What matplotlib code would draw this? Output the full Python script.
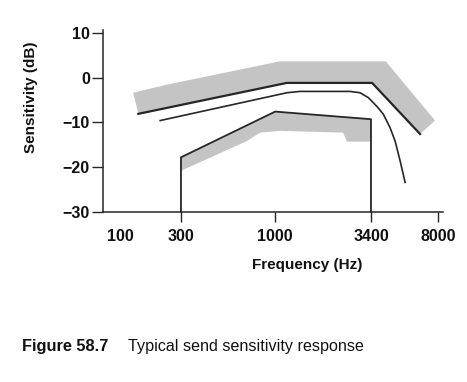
import matplotlib
matplotlib.use("Agg")
import matplotlib.pyplot as plt
from matplotlib.transforms import ScaledTranslation

plt.rcParams['font.family'] = ['Liberation Sans', 'DejaVu Sans']

# ---- data (frequency in Hz, sensitivity in dB) ----
upper_f = [174, 1160, 3450, 6365]
upper_db = [-8.1, -1.2, -1.2, -12.6]

lower_f = [230, 1160, 1370, 2600, 2960, 3290, 3660, 3985, 4340, 4630, 4935, 5260]
lower_db = [-9.6, -3.4, -3.1, -3.1, -3.4, -4.5, -6.4, -8.2, -11.2, -14.2, -18.6, -23.4]

bracket_f = [300, 300, 1000, 3400, 3400]
bracket_db = [-30, -17.8, -7.6, -9.3, -30]

# stippled tolerance bands
band1_top_f = [163, 250, 1060, 4110, 7710]
band1_top_db = [-3.4, -1.6, 3.6, 3.6, -9.6]

band2_bot_f = [3400, 2500, 2380, 1064, 824, 695, 300]
band2_bot_db = [-14.3, -14.3, -12.3, -11.9, -12.3, -14.2, -20.8]

xticks = [100, 300, 1000, 3400, 8000]
xtick_labels = ['100', '300', '1000', '3400', '8000']
yticks = [-30, -20, -10, 0, 10]

ink = '#262626'
band_col = '#c4c4c4'

fig = plt.figure(figsize=(4.67, 3.82), dpi=100)
ax = fig.add_axes([95 / 467, 170 / 382, 348 / 467, 182 / 382])

# bands
b1x = band1_top_f + upper_f[::-1]
b1y = band1_top_db + upper_db[::-1]
ax.fill(b1x, b1y, color=band_col, lw=0, zorder=1)
b2x = bracket_f[1:4] + band2_bot_f
b2y = bracket_db[1:4] + band2_bot_db
ax.fill(b2x, b2y, color=band_col, lw=0, zorder=1)

# curves
ax.plot(upper_f, upper_db, color=ink, lw=1.6, zorder=3)
ax.plot(lower_f, lower_db, color=ink, lw=1.2, zorder=3)
ax.plot(bracket_f, bracket_db, color=ink, lw=1.3, zorder=3, clip_on=False)

ax.set_xscale('log')
ax.set_xlim(100, 8535)
ax.set_ylim(-30, 10.6)

ax.set_xticks(xticks)
ax.set_xticklabels(xtick_labels)
ax.xaxis.set_minor_locator(plt.NullLocator())
ax.set_yticks(yticks)

for s in ['top', 'right']:
    ax.spines[s].set_visible(False)
ax.spines['left'].set_position(('data', 111))
ax.spines['bottom'].set_bounds(111, 8535)
for s in ['left', 'bottom']:
    ax.spines[s].set_color(ink)
    ax.spines[s].set_linewidth(1.1)

ax.tick_params(axis='x', direction='out', length=7.5, width=1.0, color=ink,
               pad=4.5, labelsize=11.5, labelcolor='#111111')
ax.tick_params(axis='y', direction='out', length=8, width=1.0, color=ink,
               pad=1.5, labelsize=11.5, labelcolor='#111111')
for lab in ax.get_xticklabels() + ax.get_yticklabels():
    lab.set_fontweight('bold')

# the "100" label has no tick mark and sits just right of the axis corner
ax.xaxis.get_major_ticks()[0].tick1line.set_visible(False)
first = ax.get_xticklabels()[0]
first.set_transform(first.get_transform() + ScaledTranslation(0.25, 0, fig.dpi_scale_trans))

ax.set_xlabel('Frequency (Hz)', fontsize=11, fontweight='bold', color='#111111')
ax.xaxis.set_label_coords(0.609, -0.255)
ax.set_ylabel('Sensitivity (dB)', fontsize=11, fontweight='bold', color='#111111')
ax.yaxis.set_label_coords(-0.165, 0.632)

fig.text(22 / 467, 1 - 347 / 382, 'Figure 58.7', fontsize=11.8, fontweight='bold',
         color='#111111', va='center')
fig.text(128 / 467, 1 - 347 / 382, 'Typical send sensitivity response', fontsize=11.6,
         color='#111111', va='center')

fig.savefig('out.png', dpi=100)
